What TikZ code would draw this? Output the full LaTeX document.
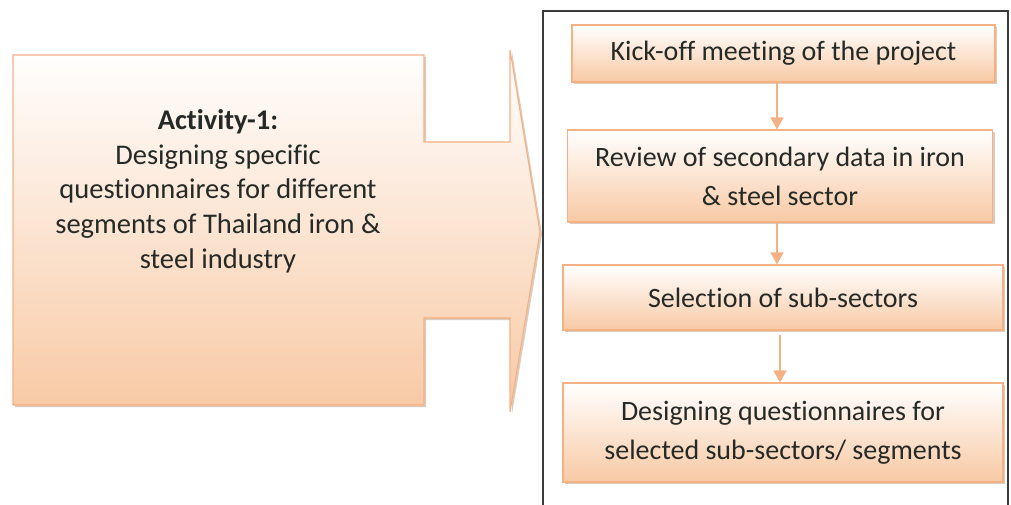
\documentclass[tikz,border=0pt]{standalone}
\usepackage{fontspec}
\setmainfont[Ligatures=NoCommon]{Carlito}
\usetikzlibrary{arrows.meta,shadows}
\definecolor{edgeorange}{HTML}{F4B183}
\definecolor{peach}{HTML}{F8C9A4}
\definecolor{paleblush}{HTML}{FEF5EE}
\definecolor{inktext}{HTML}{262A26}
\definecolor{shadowtone}{HTML}{BFA08A}
\definecolor{framegray}{HTML}{3A3A3A}
\tikzset{
  warmfill/.style={top color=white, middle color=paleblush, bottom color=peach},
  softshadow/.style={drop shadow={shadow xshift=2pt, shadow yshift=-2pt, fill=shadowtone, opacity=0.55}},
  panelbox/.style={draw=edgeorange, line width=1.1pt, warmfill, softshadow,
    align=center, text=inktext, inner sep=0pt},
  conn/.style={draw=edgeorange, line width=1.3pt, -{Triangle[width=13pt,length=12pt]}},
  txt/.style={font=\fontsize{28}{39}\selectfont}
}
\begin{document}
\begin{tikzpicture}[x=1pt,y=-1pt]
\useasboundingbox (0,0) rectangle (1011,505);

% right-arrow callout holding the activity text
\path[draw=edgeorange, line width=1.1pt, warmfill, softshadow]
  (13,55) -- (424,55) -- (424,142) -- (510,142) -- (510,50) -- (540,232)
  -- (510,412) -- (510,318) -- (424,318) -- (424,405) -- (13,405) -- cycle;
\node[text=inktext, align=center, font=\fontsize{28.5}{34.7}\selectfont] (act) at (218,191)
  {\textbf{Activity-1:}\\Designing specific\\questionnaires for different\\segments of Thailand iron \&\\steel industry};

% frame around the step sequence
\draw[framegray, line width=1.4pt] (543,505) -- (543,11) -- (1008,11) -- (1008,505);

% steps
\node[panelbox, txt, minimum width=423pt, minimum height=57pt] (kick) at (783.5,53.5)
  {Kick-off meeting of the project};
\node[panelbox, txt, minimum width=425pt, minimum height=92pt] (rev) at (780,176)
  {Review of secondary data in iron\\\& steel sector};
\node[panelbox, txt, minimum width=440pt, minimum height=65pt] (sel) at (783,297.5)
  {Selection of sub-sectors};
\node[panelbox, txt, minimum width=440pt, minimum height=99pt] (des) at (783,432.5)
  {Designing questionnaires for\\selected sub-sectors/ segments};

% connectors between steps
\coordinate (ca) at (777,0);
\coordinate (cb) at (780,0);
\draw[conn] (ca |- kick.south) -- (ca |- rev.north);
\draw[conn] (ca |- rev.south) -- (ca |- sel.north);
\draw[conn, shorten <=4pt] (cb |- sel.south) -- (cb |- des.north);
\end{tikzpicture}
\end{document}
